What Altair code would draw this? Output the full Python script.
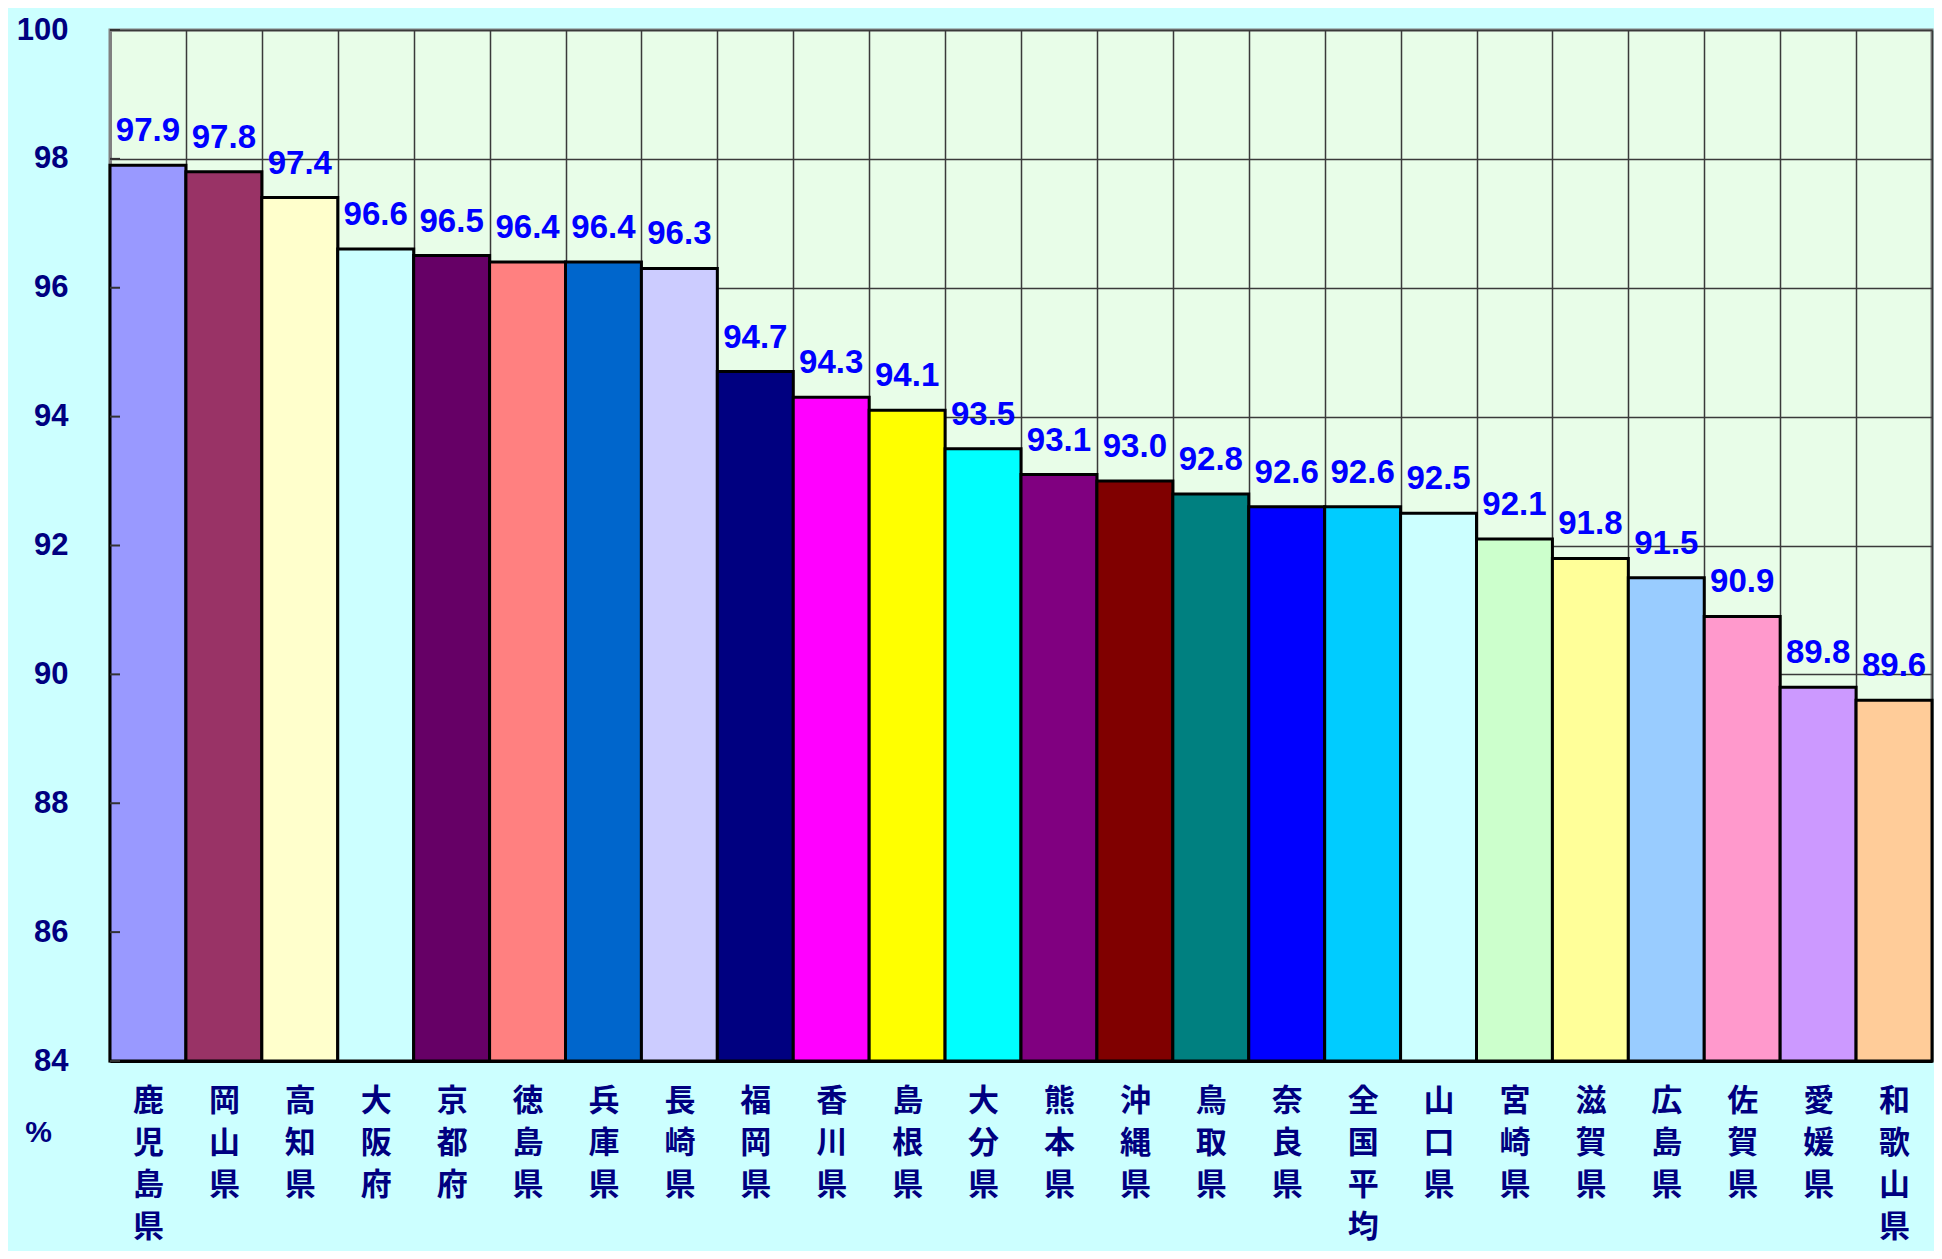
import altair as alt
import pandas as pd

categories = ["鹿児島県", "岡山県", "高知県", "大阪府", "京都府", "徳島県", "兵庫県", "長崎県",
              "福岡県", "香川県", "島根県", "大分県", "熊本県", "沖縄県", "鳥取県", "奈良県",
              "全国平均", "山口県", "宮崎県", "滋賀県", "広島県", "佐賀県", "愛媛県", "和歌山県"]
values = [97.9, 97.8, 97.4, 96.6, 96.5, 96.4, 96.4, 96.3,
          94.7, 94.3, 94.1, 93.5, 93.1, 93.0, 92.8, 92.6,
          92.6, 92.5, 92.1, 91.8, 91.5, 90.9, 89.8, 89.6]
colors = ["#9999FF", "#993366", "#FFFFCC", "#CCFFFF", "#660066", "#FF8080", "#0066CC", "#CCCCFF",
          "#000080", "#FF00FF", "#FFFF00", "#00FFFF", "#800080", "#800000", "#008080", "#0000FF",
          "#00CCFF", "#CCFFFF", "#CCFFCC", "#FFFF99", "#99CCFF", "#FF99CC", "#CC99FF", "#FFCC99"]
y_ticks = [84, 86, 88, 90, 92, 94, 96, 98, 100]

df = pd.DataFrame({"cat": categories, "val": values, "label": [f"{v:.1f}" for v in values]})
df_ticks = pd.DataFrame({"val": y_ticks})

NAVY = "#000080"

x_enc = alt.X(
    "cat:N", sort=categories, title=None,
    scale=alt.Scale(paddingInner=0, paddingOuter=0),
    axis=alt.Axis(
        labelAngle=0, labelExpr="split(datum.label, '')", labelLineHeight=42,
        labelBaseline="top", labelPadding=25, labelFont="Noto Sans CJK JP",
        labelFontSize=31, labelFontWeight="bold", labelColor=NAVY,
        ticks=False, tickBand="extent", grid=True, gridColor="#3a3a3a", gridWidth=1.5,
        domainColor="#000000", domainWidth=3, labelOverlap=False,
    ),
)

y_scale = alt.Scale(domain=[84, 100], nice=False, zero=False)

y_axis = alt.Axis(values=y_ticks, format="d", labelFont="Liberation Sans", labelFontSize=31,
                  labelFontWeight="bold", labelColor=NAVY, labelPadding=42,
                  ticks=False, domainColor="#808080", domainWidth=3,
                  grid=True, gridColor="#3a3a3a", gridWidth=1.3,
                  titleAngle=0, titleX=-72, titleY=1102, titleAlign="center",
                  titleBaseline="middle", titleFont="Liberation Sans",
                  titleFontSize=30, titleFontWeight="bold", titleColor=NAVY)

bars = alt.Chart(df).mark_bar(stroke="#000000", strokeWidth=3).encode(
    x=x_enc,
    y=alt.Y("val:Q", scale=y_scale, title="%", axis=y_axis),
    y2=alt.datum(84),
    color=alt.Color("cat:N", scale=alt.Scale(domain=categories, range=colors), legend=None),
)

tick_marks = alt.Chart(df_ticks).mark_rule(color="#333333", strokeWidth=2).encode(
    y=alt.Y("val:Q", scale=y_scale, title="%"),
    x=alt.value(0),
    x2=alt.value(10),
)

text = alt.Chart(df).mark_text(
    dy=-24, baseline="alphabetic", align="center", font="Liberation Sans",
    fontSize=33, fontWeight="bold", color="#0000FF",
).encode(
    x=alt.X("cat:N", sort=categories),
    y=alt.Y("val:Q", scale=y_scale, title="%"),
    text="label:N",
)

chart = alt.layer(bars, tick_marks, text).properties(
    width=1822, height=1031,
    autosize=alt.AutoSizeParams(type="none"),
    padding={"left": 102, "top": 22, "right": 2, "bottom": 190},
    background="#CCFFFF",
).configure_view(fill="#E8FDE8", stroke="#808080", strokeWidth=3)

chart.save("out.html", embed_options={"renderer": "svg", "actions": False})
